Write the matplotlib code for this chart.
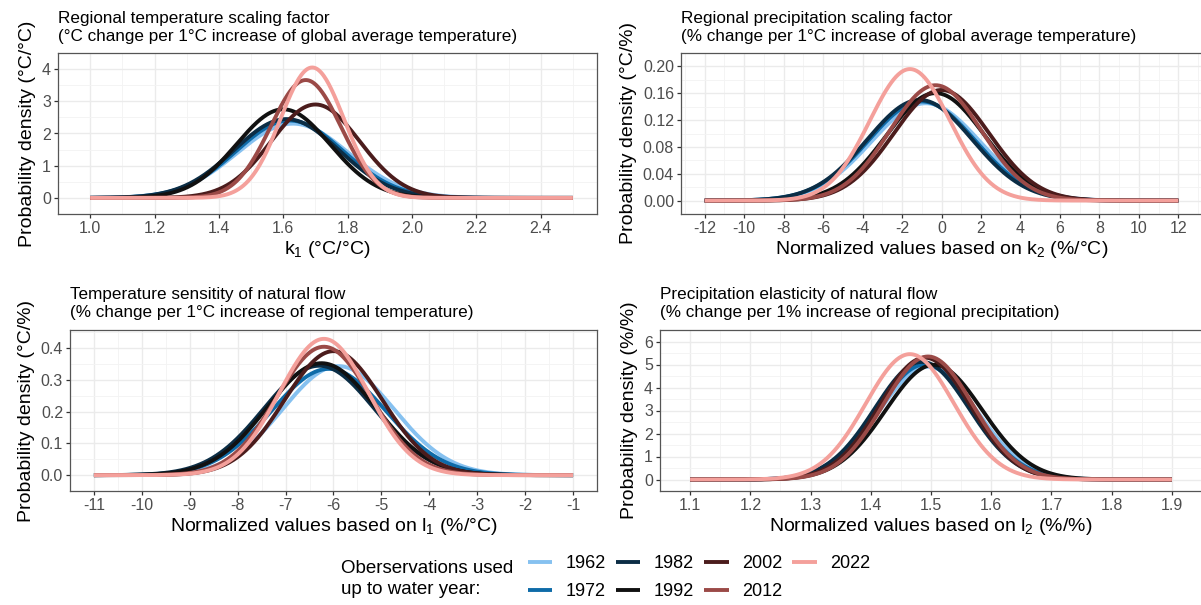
import matplotlib.pyplot as plt
import numpy as np

plt.rcParams['font.family'] = ['Liberation Sans', 'DejaVu Sans']
plt.rcParams['mathtext.default'] = 'regular'
plt.rcParams['axes.unicode_minus'] = False

years = ['1962', '1972', '1982', '1992', '2002', '2012', '2022']
colors = ['#86C1F0', '#0E6BA8', '#0B2D45', '#111111', '#4B1C1C', '#9B4A47', '#F4A09B']

# centre and spread of each density curve
k1_range = [1.0, 2.5]
k1_mean = [1.63, 1.62, 1.61, 1.60, 1.70, 1.67, 1.69]
k1_sd = [0.173, 0.166, 0.163, 0.145, 0.1375, 0.109, 0.0985]

k2_range = [-12, 12]
k2_mean = [-0.8, -1.0, -1.1, -0.3, 0.0, -0.3, -1.6]
k2_sd = [2.75, 2.70, 2.66, 2.49, 2.42, 2.32, 2.035]

l1_range = [-11, -1]
l1_mean = [-5.9, -6.1, -6.3, -6.25, -6.0, -6.2, -6.2]
l1_sd = [1.16, 1.19, 1.156, 1.13, 1.02, 0.985, 0.928]

l2_range = [1.1, 1.9]
l2_mean = [1.495, 1.49, 1.485, 1.505, 1.49, 1.495, 1.465]
l2_sd = [0.0814, 0.0798, 0.078, 0.080, 0.0753, 0.0746, 0.0732]

titles = [
    'Regional temperature scaling factor\n(°C change per 1°C increase of global average temperature)',
    'Regional precipitation scaling factor\n(% change per 1°C increase of global average temperature)',
    'Temperature sensitity of natural flow\n(% change per 1°C increase of regional temperature)',
    'Precipitation elasticity of natural flow\n(% change per 1% increase of regional precipitation)',
]
xlabels = ['k$_1$ (°C/°C)', 'Normalized values based on k$_2$ (%/°C)',
           'Normalized values based on l$_1$ (%/°C)', 'Normalized values based on l$_2$ (%/%)']
ylabels = ['Probability density (°C/°C)', 'Probability density (°C/%)',
           'Probability density (°C/%)', 'Probability density (%/%)']

W, H = 1201, 605


def px_axes(fig, left, top, right, bottom):
    return fig.add_axes([left / W, 1 - bottom / H, (right - left) / W, (bottom - top) / H])


def normal_pdf(x, mu, sd):
    return np.exp(-0.5 * ((x - mu) / sd) ** 2) / (sd * np.sqrt(2 * np.pi))


def draw_panel(ax, xr, means, sds, xticks, xfmt, yticks, yfmt, ylim, title, xlabel, ylabel):
    x = np.linspace(xr[0], xr[1], 600)
    for mu, sd, c, yr in zip(means, sds, colors, years):
        ax.plot(x, normal_pdf(x, mu, sd), color=c, lw=2.8, label=yr, solid_capstyle='butt')

    pad = 0.05 * (xr[1] - xr[0])
    ax.set_xlim(xr[0] - pad, xr[1] + pad)
    ax.set_ylim(*ylim)

    ax.set_xticks(xticks)
    ax.set_xticklabels([xfmt.format(v) for v in xticks])
    ax.set_yticks(yticks)
    ax.set_yticklabels([yfmt.format(v) for v in yticks])
    xs = xticks[1] - xticks[0]
    ys = yticks[1] - yticks[0]
    ax.set_xticks(np.arange(xticks[0] - xs / 2, xticks[-1] + xs, xs), minor=True)
    ax.set_yticks(np.arange(yticks[0] - ys / 2, yticks[-1] + ys, ys), minor=True)

    ax.set_axisbelow(True)
    ax.grid(which='major', color='#EBEBEB', lw=1.0)
    ax.grid(which='minor', color='#F3F3F3', lw=0.6)
    ax.tick_params(which='major', length=3, width=0.9, color='#333333',
                   labelsize=11.5, labelcolor='#4D4D4D', pad=2)
    ax.tick_params(which='minor', length=0)
    for s in ax.spines.values():
        s.set_color('#555555')
        s.set_linewidth(0.9)

    ax.set_title(title, loc='left', fontsize=12.3, pad=9, linespacing=1.25)
    ax.set_xlabel(xlabel, fontsize=14, labelpad=2)
    ax.set_ylabel(ylabel, fontsize=14, labelpad=4)


fig = plt.figure(figsize=(W / 100, H / 100), dpi=100)

ax1 = px_axes(fig, 58, 53, 597, 214)
ax2 = px_axes(fig, 681, 53, 1202, 214)
ax3 = px_axes(fig, 70, 330, 597, 491)
ax4 = px_axes(fig, 660, 330, 1202, 491)

draw_panel(ax1, k1_range, k1_mean, k1_sd,
           np.round(np.arange(1.0, 2.41, 0.2), 2), '{:.1f}',
           np.arange(0, 5, 1), '{:d}', (-0.171, 4.429),
           titles[0], xlabels[0], ylabels[0])
draw_panel(ax2, k2_range, k2_mean, k2_sd,
           np.arange(-12, 13, 2), '{:d}',
           np.round(np.arange(0, 0.201, 0.04), 2), '{:.2f}', (-0.009, 0.2086),
           titles[1], xlabels[1], ylabels[1])
draw_panel(ax3, l1_range, l1_mean, l1_sd,
           np.arange(-11, 0, 1), '{:d}',
           np.round(np.arange(0, 0.41, 0.1), 1), '{:.1f}', (-0.0196, 0.4578),
           titles[2], xlabels[2], ylabels[2])
draw_panel(ax4, l2_range, l2_mean, l2_sd,
           np.round(np.arange(1.1, 1.91, 0.1), 1), '{:.1f}',
           np.arange(0, 7, 1), '{:d}', (-0.27, 6.26),
           titles[3], xlabels[3], ylabels[3])

handles, labels = ax1.get_legend_handles_labels()
fig.legend(handles, labels, ncol=4, loc='upper left',
           bbox_to_anchor=(528 / W, 1 - 555 / H), frameon=False,
           fontsize=13, handlelength=1.35, handletextpad=0.75,
           columnspacing=0.55, labelspacing=0.6, borderpad=0, borderaxespad=0)
fig.text(341 / W, 1 - 579 / H, 'Oberservations used\nup to water year:',
         fontsize=13.5, va='center', ha='left', linespacing=1.3)

fig.savefig('out.png', dpi=100)
